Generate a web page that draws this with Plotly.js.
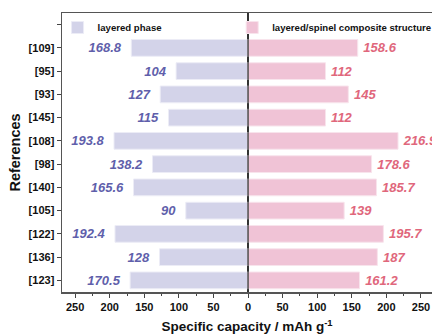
<!DOCTYPE html>
<html><head><meta charset="utf-8">
<script src="https://cdn.plot.ly/plotly-3.0.1.min.js"></script>
<style>body{margin:0;padding:0;}#c{width:432px;height:335px;}</style>
</head><body><div id="c"></div>
<script>
const references = ["[109]","[95]","[93]","[145]","[108]","[98]","[140]","[105]","[122]","[136]","[123]"];
const layeredPhase = [168.8,104,127,115,193.8,138.2,165.6,90,192.4,128,170.5];
const composite = [158.6,112,145,112,216.9,178.6,185.7,139,195.7,187,161.2];
const xTickValues = [-250,-200,-150,-100,-50,0,50,100,150,200,250];
const xMinorValues = [-225,-175,-125,-75,-25,25,75,125,175,225];

const n = references.length;
// positions: top row reserved for legend
const ypos = references.map((r,i)=> n-1-i);
const tickvals = ypos.concat([n]);
const ticktext = references.concat([""]);

const FONT = "Liberation Sans, Arial, sans-serif";

const traces = [
 {type:'bar', orientation:'h', name:'layered phase', y:ypos, x:layeredPhase.map(v=>-v),
  text:layeredPhase.map(v=>String(v)+'\u00a0\u00a0'), textposition:'outside', cliponaxis:false,
  textfont:{family:FONT,size:13,color:'#5f5fab',style:'italic',weight:'bold'},
  marker:{color:'#d3d3e9',line:{color:'#ececf6',width:1}}, width:0.72, legend:'legend'},
 {type:'bar', orientation:'h', name:'layered/spinel composite structure', y:ypos, x:composite,
  text:composite.map(v=>'\u2009'+String(v)), textposition:'outside', cliponaxis:false,
  textfont:{family:FONT,size:13,color:'#e0677c',style:'italic',weight:'bold'},
  marker:{color:'#f0c3d6',line:{color:'#f8e4ec',width:1}}, width:0.72, legend:'legend2'}
];

const layout = {
 width:432, height:335,
 margin:{l:62,r:0,t:13,b:43,autoexpand:false},
 paper_bgcolor:'#fff', plot_bgcolor:'#fff',
 barmode:'overlay', showlegend:true,
 font:{family:FONT,color:'#111'},
 xaxis:{range:[-269,266], tickmode:'array', tickvals:xTickValues, ticktext:xTickValues.map(v=>String(Math.abs(v))),
  ticks:'outside', ticklen:4, tickwidth:1, tickcolor:'#444',
  minor:{tickvals:xMinorValues, ticks:'outside', ticklen:2, tickcolor:'#444'},
  showline:true, linecolor:'#555', linewidth:1.5, mirror:true, showgrid:false,
  zeroline:true, zerolinecolor:'#333', zerolinewidth:1.5,
  tickfont:{family:FONT,size:11,weight:'bold',color:'#111'},
  title:{text:'Specific capacity / mAh g<sup>-1</sup>', font:{family:FONT,size:13.5,weight:'bold',color:'#111'}, standoff:10}},
 yaxis:{range:[-0.5,n+0.5], tickmode:'array', tickvals:tickvals, ticktext:ticktext,
  ticks:'outside', ticklen:4, tickwidth:1, tickcolor:'#444',
  showline:true, linecolor:'#555', linewidth:1.5, mirror:false, showgrid:false, zeroline:false,
  tickfont:{family:FONT,size:11,weight:'bold',color:'#111'},
  title:{text:'References', font:{family:FONT,size:14.5,weight:'bold',color:'#111'}, standoff:4}},
 shapes:[{type:'line', xref:'x', yref:'paper', x0:0, x1:0, y0:0, y1:1, layer:'above', line:{color:'#333', width:1.3}}],
 legend:{x:-0.012, y:1, xanchor:'left', yanchor:'top', bgcolor:'rgba(0,0,0,0)',
  font:{family:FONT,size:9.6,weight:'bold',color:'#111'}, itemwidth:30, tracegroupgap:0},
 legend2:{x:0.46, y:1, xanchor:'left', yanchor:'top', bgcolor:'rgba(0,0,0,0)',
  font:{family:FONT,size:9.6,weight:'bold',color:'#111'}, itemwidth:30}
};
Plotly.newPlot('c', traces, layout, {displayModeBar:false, staticPlot:true});
</script></body></html>
